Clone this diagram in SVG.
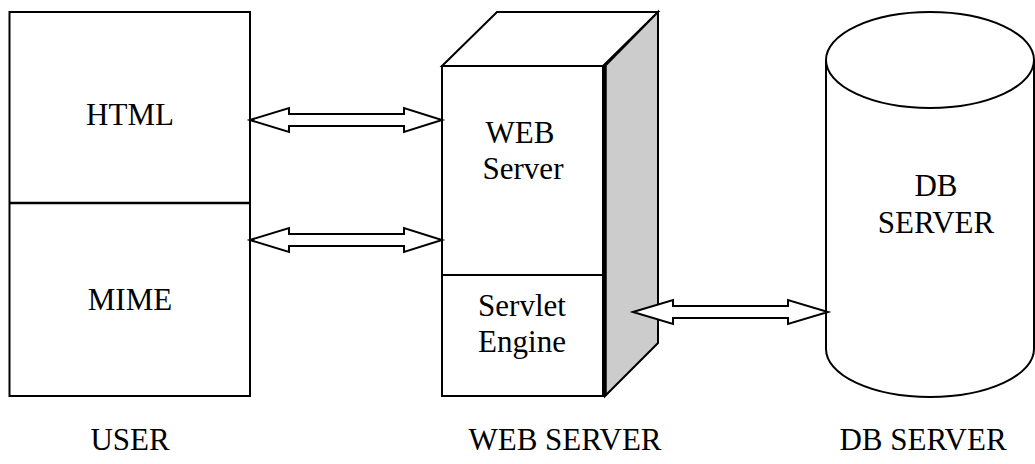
<svg xmlns="http://www.w3.org/2000/svg" width="1035" height="464" viewBox="0 0 1035 464">
<style>
.ln{fill:#fff;stroke:#000;stroke-width:2;stroke-linejoin:miter}
.sd{fill:#cccccc;stroke:#000;stroke-width:2}
.t{font-family:'Liberation Serif','DejaVu Serif',serif;font-size:31px;fill:#000;text-anchor:middle}
.ar{fill:#fff;stroke:#000;stroke-width:2;stroke-linejoin:miter}
</style>
<rect width="1035" height="464" fill="#fff"/>
<g id="user">
<rect class="ln" x="9.5" y="12" width="240.5" height="384"/>
<line x1="9.5" y1="203" x2="250" y2="203" stroke="#000" stroke-width="2.5"/>
<text class="t" x="130" y="125">HTML</text>
<text class="t" x="130" y="310">MIME</text>
</g>
<g id="web-server">
<polygon class="ln" points="442,66 497,12 658,12 603,66"/>
<polygon class="sd" points="605,66 658,12 658,343 605,396"/>
<rect class="ln" x="442" y="66" width="161" height="330"/>
<line x1="606" y1="66" x2="606" y2="396" stroke="#000" stroke-width="1.5"/>
<line x1="442" y1="275" x2="603" y2="275" stroke="#000" stroke-width="2"/>
<text class="t" x="520" y="143">WEB</text>
<text class="t" x="523" y="179">Server</text>
<text class="t" x="522" y="316">Servlet</text>
<text class="t" x="522" y="352">Engine</text>
</g>
<g id="db-server">
<path class="ln" d="M826,60 L826,349 A104,48 0 0 0 1034,349 L1034,60"/>
<ellipse class="ln" cx="930" cy="60" rx="104" ry="48"/>
<text class="t" x="936" y="196">DB</text>
<text class="t" x="936" y="233">SERVER</text>
</g>
<g id="labels">
<text class="t" x="130" y="450">USER</text>
<text class="t" x="565" y="450">WEB SERVER</text>
<text class="t" x="923" y="450">DB SERVER</text>
</g>
<g id="connectors">
<polygon class="ar" points="250,120 289,108 289,114 404,114 404,108 442,120 404,132 404,126 289,126 289,132"/>
<polygon class="ar" points="250,240 289,228 289,234 404,234 404,228 442,240 404,252 404,246 289,246 289,252"/>
<polygon class="ar" points="633,312 673,300 673,306 788,306 788,300 828,312 788,324 788,318 673,318 673,324"/>
</g>
</svg>
